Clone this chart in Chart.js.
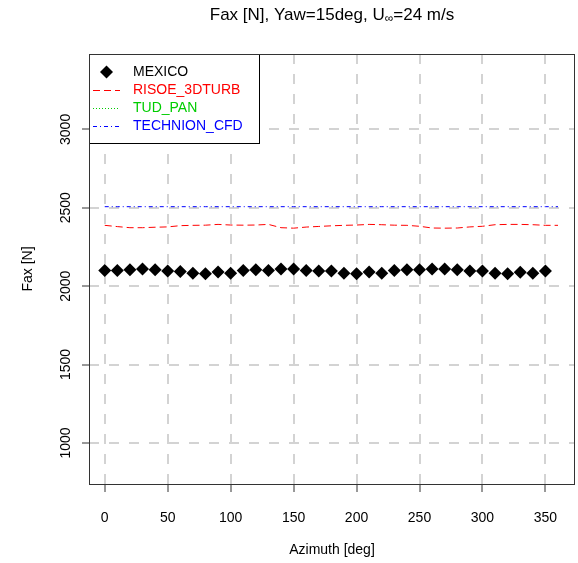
<!DOCTYPE html>
<html>
<head>
<meta charset="utf-8">
<script src="https://cdn.jsdelivr.net/npm/chart.js@4.4.1/dist/chart.umd.min.js"></script>
<style>
  html, body { margin: 0; padding: 0; background: #fff; }
  canvas { display: block; }
</style>
</head>
<body>
<canvas id="faxChart" width="578" height="563"></canvas>
<script>
// data
var azimuthMexico = [0, 10, 20, 30, 40, 50, 60, 70, 80, 90, 100, 110, 120, 130, 140, 150, 160, 170,
  180, 190, 200, 210, 220, 230, 240, 250, 260, 270, 280, 290, 300, 310, 320, 330, 340, 350];
var faxMexico = [2100, 2100, 2105, 2109, 2105, 2096, 2094, 2083, 2079, 2090, 2083, 2100, 2105, 2100, 2109, 2109, 2100, 2097,
  2097, 2083, 2079, 2091, 2083, 2100, 2105, 2105, 2109, 2109, 2105, 2096, 2096, 2083, 2079, 2088, 2083, 2096];

var azimuthCurves = [0, 10, 20, 30, 40, 50, 60, 70, 80, 90, 100, 110, 120, 130, 140, 150, 160, 170, 180,
  190, 200, 210, 220, 230, 240, 250, 260, 270, 280, 290, 300, 310, 320, 330, 340, 350, 360];
var faxRisoe = [2388, 2380, 2373, 2373, 2376, 2378, 2386, 2388, 2389, 2394, 2390, 2389, 2390, 2394, 2373, 2370, 2377, 2381, 2385,
  2388, 2390, 2394, 2392, 2389, 2388, 2382, 2371, 2370, 2371, 2378, 2382, 2392, 2394, 2394, 2392, 2388, 2388];
var faxTudPan = [];
var faxTechnion = [2507, 2507, 2507, 2507, 2507, 2507, 2507, 2507, 2507, 2507, 2507, 2507, 2507, 2507, 2507, 2507, 2507, 2507, 2507,
  2507, 2507, 2507, 2507, 2507, 2507, 2507, 2507, 2507, 2507, 2507, 2507, 2507, 2507, 2507, 2507, 2507, 2507];

var xTicks = [0, 50, 100, 150, 200, 250, 300, 350];
var yTicks = [1000, 1500, 2000, 2500, 3000];

var FONT = '"Liberation Sans", Arial, sans-serif';

function toPoints(xs, ys) {
  return ys.map(function(y, i) { return { x: xs[i], y: y }; });
}

// R-style extras: title, axis titles, rotated y labels, box, legend
var rStylePlugin = {
  id: 'rStyle',
  afterDatasetsDraw: function(chart) {
    var ctx = chart.ctx;
    var area = chart.chartArea;

    // legend box
    var lx = area.left, ly = area.top, lw = 170, lh = 89;
    ctx.save();
    ctx.fillStyle = '#fff';
    ctx.fillRect(lx, ly, lw, lh);
    ctx.strokeStyle = '#000';
    ctx.lineWidth = 1;
    ctx.strokeRect(Math.round(lx) + 0.5, Math.round(ly) + 0.5, lw, lh);
    ctx.font = '14px ' + FONT;
    ctx.textBaseline = 'middle';
    ctx.textAlign = 'left';
    chart.data.datasets.forEach(function(ds, i) {
      var cy = ly + 18 + i * 18;
      var sx1 = lx + 4, sx2 = lx + 31, scx = lx + 17.5;
      if (ds.showLine === false) {
        ctx.fillStyle = ds.pointBackgroundColor;
        ctx.beginPath();
        ctx.moveTo(scx, cy - 6.5);
        ctx.lineTo(scx + 6.5, cy);
        ctx.lineTo(scx, cy + 6.5);
        ctx.lineTo(scx - 6.5, cy);
        ctx.closePath();
        ctx.fill();
      } else {
        ctx.strokeStyle = ds.borderColor;
        ctx.lineWidth = 1;
        ctx.setLineDash(ds.borderDash || []);
        ctx.beginPath();
        ctx.moveTo(sx1, Math.round(cy) + 0.5);
        ctx.lineTo(sx2, Math.round(cy) + 0.5);
        ctx.stroke();
        ctx.setLineDash([]);
      }
      ctx.fillStyle = ds.labelColor;
      ctx.fillText(ds.label, lx + 44, cy);
    });
    ctx.restore();
  },
  afterDraw: function(chart) {
    var ctx = chart.ctx;
    var area = chart.chartArea;
    var yScale = chart.scales.y;
    var cx = (area.left + area.right) / 2;
    var cy = (area.top + area.bottom) / 2;
    ctx.save();

    // plot box
    ctx.strokeStyle = '#333';
    ctx.lineWidth = 1;
    ctx.strokeRect(Math.round(area.left) + 0.5, Math.round(area.top) + 0.5,
      Math.round(area.right - area.left) - 1, Math.round(area.bottom - area.top));

    // rotated y tick labels
    ctx.fillStyle = '#000';
    ctx.font = '14px ' + FONT;
    ctx.textAlign = 'center';
    ctx.textBaseline = 'middle';
    yTicks.forEach(function(v) {
      var py = yScale.getPixelForValue(v);
      ctx.save();
      ctx.translate(66, py);
      ctx.rotate(-Math.PI / 2);
      ctx.fillText(String(v), 0, 0);
      ctx.restore();
    });

    // axis titles
    ctx.fillText('Azimuth [deg]', cx, 550);
    ctx.save();
    ctx.translate(28, cy);
    ctx.rotate(-Math.PI / 2);
    ctx.fillText('Fax [N]', 0, 0);
    ctx.restore();

    // main title with subscript infinity
    var big = '17px ' + FONT, small = '12px ' + FONT;
    var p1 = 'Fax [N], Yaw=15deg, U', p2 = '\u221E', p3 = '=24 m/s';
    ctx.font = big;
    var w1 = ctx.measureText(p1).width, w3 = ctx.measureText(p3).width;
    ctx.font = small;
    var w2 = ctx.measureText(p2).width;
    var sx = cx - (w1 + w2 + w3) / 2;
    ctx.textAlign = 'left';
    ctx.font = big;
    ctx.fillText(p1, sx, 15);
    ctx.font = small;
    ctx.fillText(p2, sx + w1, 19);
    ctx.font = big;
    ctx.fillText(p3, sx + w1 + w2, 15);
    ctx.restore();
  }
};

window.onload = function() {
  var canvas = document.getElementById('faxChart');
  var ctx = canvas.getContext('2d');

  var gridOpts = {
    color: '#d3d3d3',
    lineWidth: 2,
    drawTicks: true,
    tickLength: 8,
    tickColor: '#333',
    tickWidth: 1,
    tickBorderDash: []
  };

  var chart = new Chart(ctx, {
    type: 'line',
    data: {
      datasets: [{
        label: 'MEXICO',
        data: toPoints(azimuthMexico, faxMexico),
        showLine: false,
        pointStyle: 'rectRot',
        pointRadius: 6.5,
        pointBackgroundColor: '#000',
        pointBorderColor: '#000',
        pointBorderWidth: 0,
        borderColor: '#000',
        labelColor: '#000'
      }, {
        label: 'RISOE_3DTURB',
        data: toPoints(azimuthCurves, faxRisoe),
        borderColor: '#ff0000',
        borderWidth: 1,
        borderDash: [7, 4],
        pointRadius: 0,
        labelColor: '#ff0000'
      }, {
        label: 'TUD_PAN',
        data: toPoints(azimuthCurves, faxTudPan),
        borderColor: '#00cd00',
        borderWidth: 1,
        borderDash: [1, 2],
        pointRadius: 0,
        labelColor: '#00cd00'
      }, {
        label: 'TECHNION_CFD',
        data: toPoints(azimuthCurves, faxTechnion),
        borderColor: '#0000ff',
        borderWidth: 1,
        borderDash: [4, 3, 1, 3],
        pointRadius: 0,
        labelColor: '#0000ff'
      }]
    },
    options: {
      responsive: false,
      animation: false,
      devicePixelRatio: 1,
      layout: { autoPadding: false, padding: { left: 0, top: 54, right: 3, bottom: 0 } },
      plugins: {
        legend: { display: false },
        title: { display: false },
        tooltip: { enabled: false }
      },
      scales: {
        x: {
          type: 'linear',
          min: -12.5,
          max: 373.5,
          afterBuildTicks: function(scale) {
            scale.ticks = xTicks.map(function(v) { return { value: v }; });
          },
          afterFit: function(scale) {
            scale.height = 79;
            scale.paddingLeft = 0;
            scale.paddingRight = 0;
          },
          grid: gridOpts,
          border: { display: false, dash: [10, 10] },
          ticks: {
            color: '#000',
            font: { family: FONT, size: 14 },
            padding: 18,
            maxRotation: 0,
            autoSkip: false
          }
        },
        y: {
          type: 'linear',
          min: 738,
          max: 3481,
          afterBuildTicks: function(scale) {
            scale.ticks = yTicks.map(function(v) { return { value: v }; });
          },
          afterFit: function(scale) {
            scale.width = 89;
            scale.paddingTop = 0;
            scale.paddingBottom = 0;
          },
          grid: Object.assign({}, gridOpts, { tickLength: 7 }),
          border: { display: false, dash: [10, 10] },
          ticks: { display: false }
        }
      }
    },
    plugins: [rStylePlugin]
  });
};
</script>
</body>
</html>
